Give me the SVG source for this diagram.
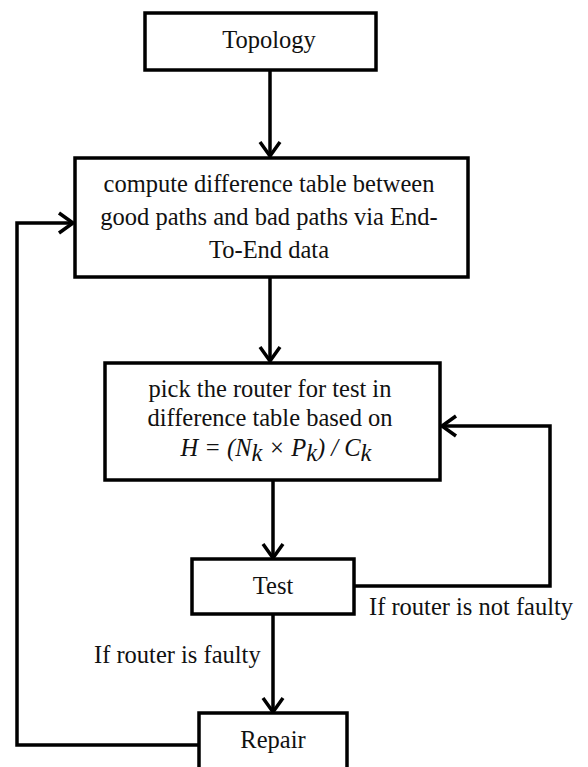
<svg xmlns="http://www.w3.org/2000/svg" width="588" height="767" viewBox="0 0 588 767">
<style>
.box{fill:#fff;stroke:#000;stroke-width:3.5}
.t{font-family:'Liberation Serif','Times New Roman','DejaVu Serif',serif;font-size:24.5px;fill:#111}
.c{text-anchor:middle}
.ln{fill:none;stroke:#000;stroke-width:3.5;stroke-linejoin:miter}
</style>
<defs>
<marker id="ah" markerUnits="userSpaceOnUse" viewBox="-18 -13 20 26" refX="0" refY="0" markerWidth="20" markerHeight="26" orient="auto">
<path d="M-14,-10 L0,0 L-14,10" fill="none" stroke="#000" stroke-width="3.5"/>
</marker>
</defs>
<g id="connectors">
<line class="ln" x1="270" y1="70" x2="270" y2="156" marker-end="url(#ah)"/>
<line class="ln" x1="270" y1="277" x2="270" y2="361" marker-end="url(#ah)"/>
<line class="ln" x1="273" y1="480" x2="273" y2="558" marker-end="url(#ah)"/>
<line class="ln" x1="273" y1="614" x2="273" y2="712" marker-end="url(#ah)"/>
<polyline class="ln" points="354,586 550,586 550,426 442,426" marker-end="url(#ah)"/>
<polyline class="ln" points="199,745 17,745 17,223 73,223" marker-end="url(#ah)"/>
</g>
<g id="topology">
<rect class="box" x="145" y="13" width="231" height="57"/>
<text class="t c" x="269" y="48" font-family="Liberation Serif, serif">Topology</text>
</g>
<g id="compute">
<rect class="box" x="75" y="158" width="393" height="119"/>
<text class="t c" x="269" y="192">compute difference table between</text>
<text class="t c" x="269" y="225">good paths and bad paths via End-</text>
<text class="t c" x="269" y="258">To-End data</text>
</g>
<g id="pick">
<rect class="box" x="105" y="363" width="335" height="117"/>
<text class="t c" x="270" y="397">pick the router for test in</text>
<text class="t c" x="270" y="426">difference table based on</text>
<text class="t c" x="276" y="456" font-style="italic">H = (N<tspan dy="5">k</tspan><tspan dy="-5"> × P</tspan><tspan dy="5">k</tspan><tspan dy="-5">) / C</tspan><tspan dy="5">k</tspan></text>
</g>
<g id="test">
<rect class="box" x="192" y="559" width="162" height="55"/>
<text class="t c" x="273" y="594">Test</text>
</g>
<g id="repair">
<rect class="box" x="199" y="713" width="148" height="70"/>
<text class="t c" x="273" y="748">Repair</text>
</g>
<g id="labels">
<text class="t" x="369" y="615">If router is not faulty</text>
<text class="t" x="94" y="663">If router is faulty</text>
</g>
</svg>
